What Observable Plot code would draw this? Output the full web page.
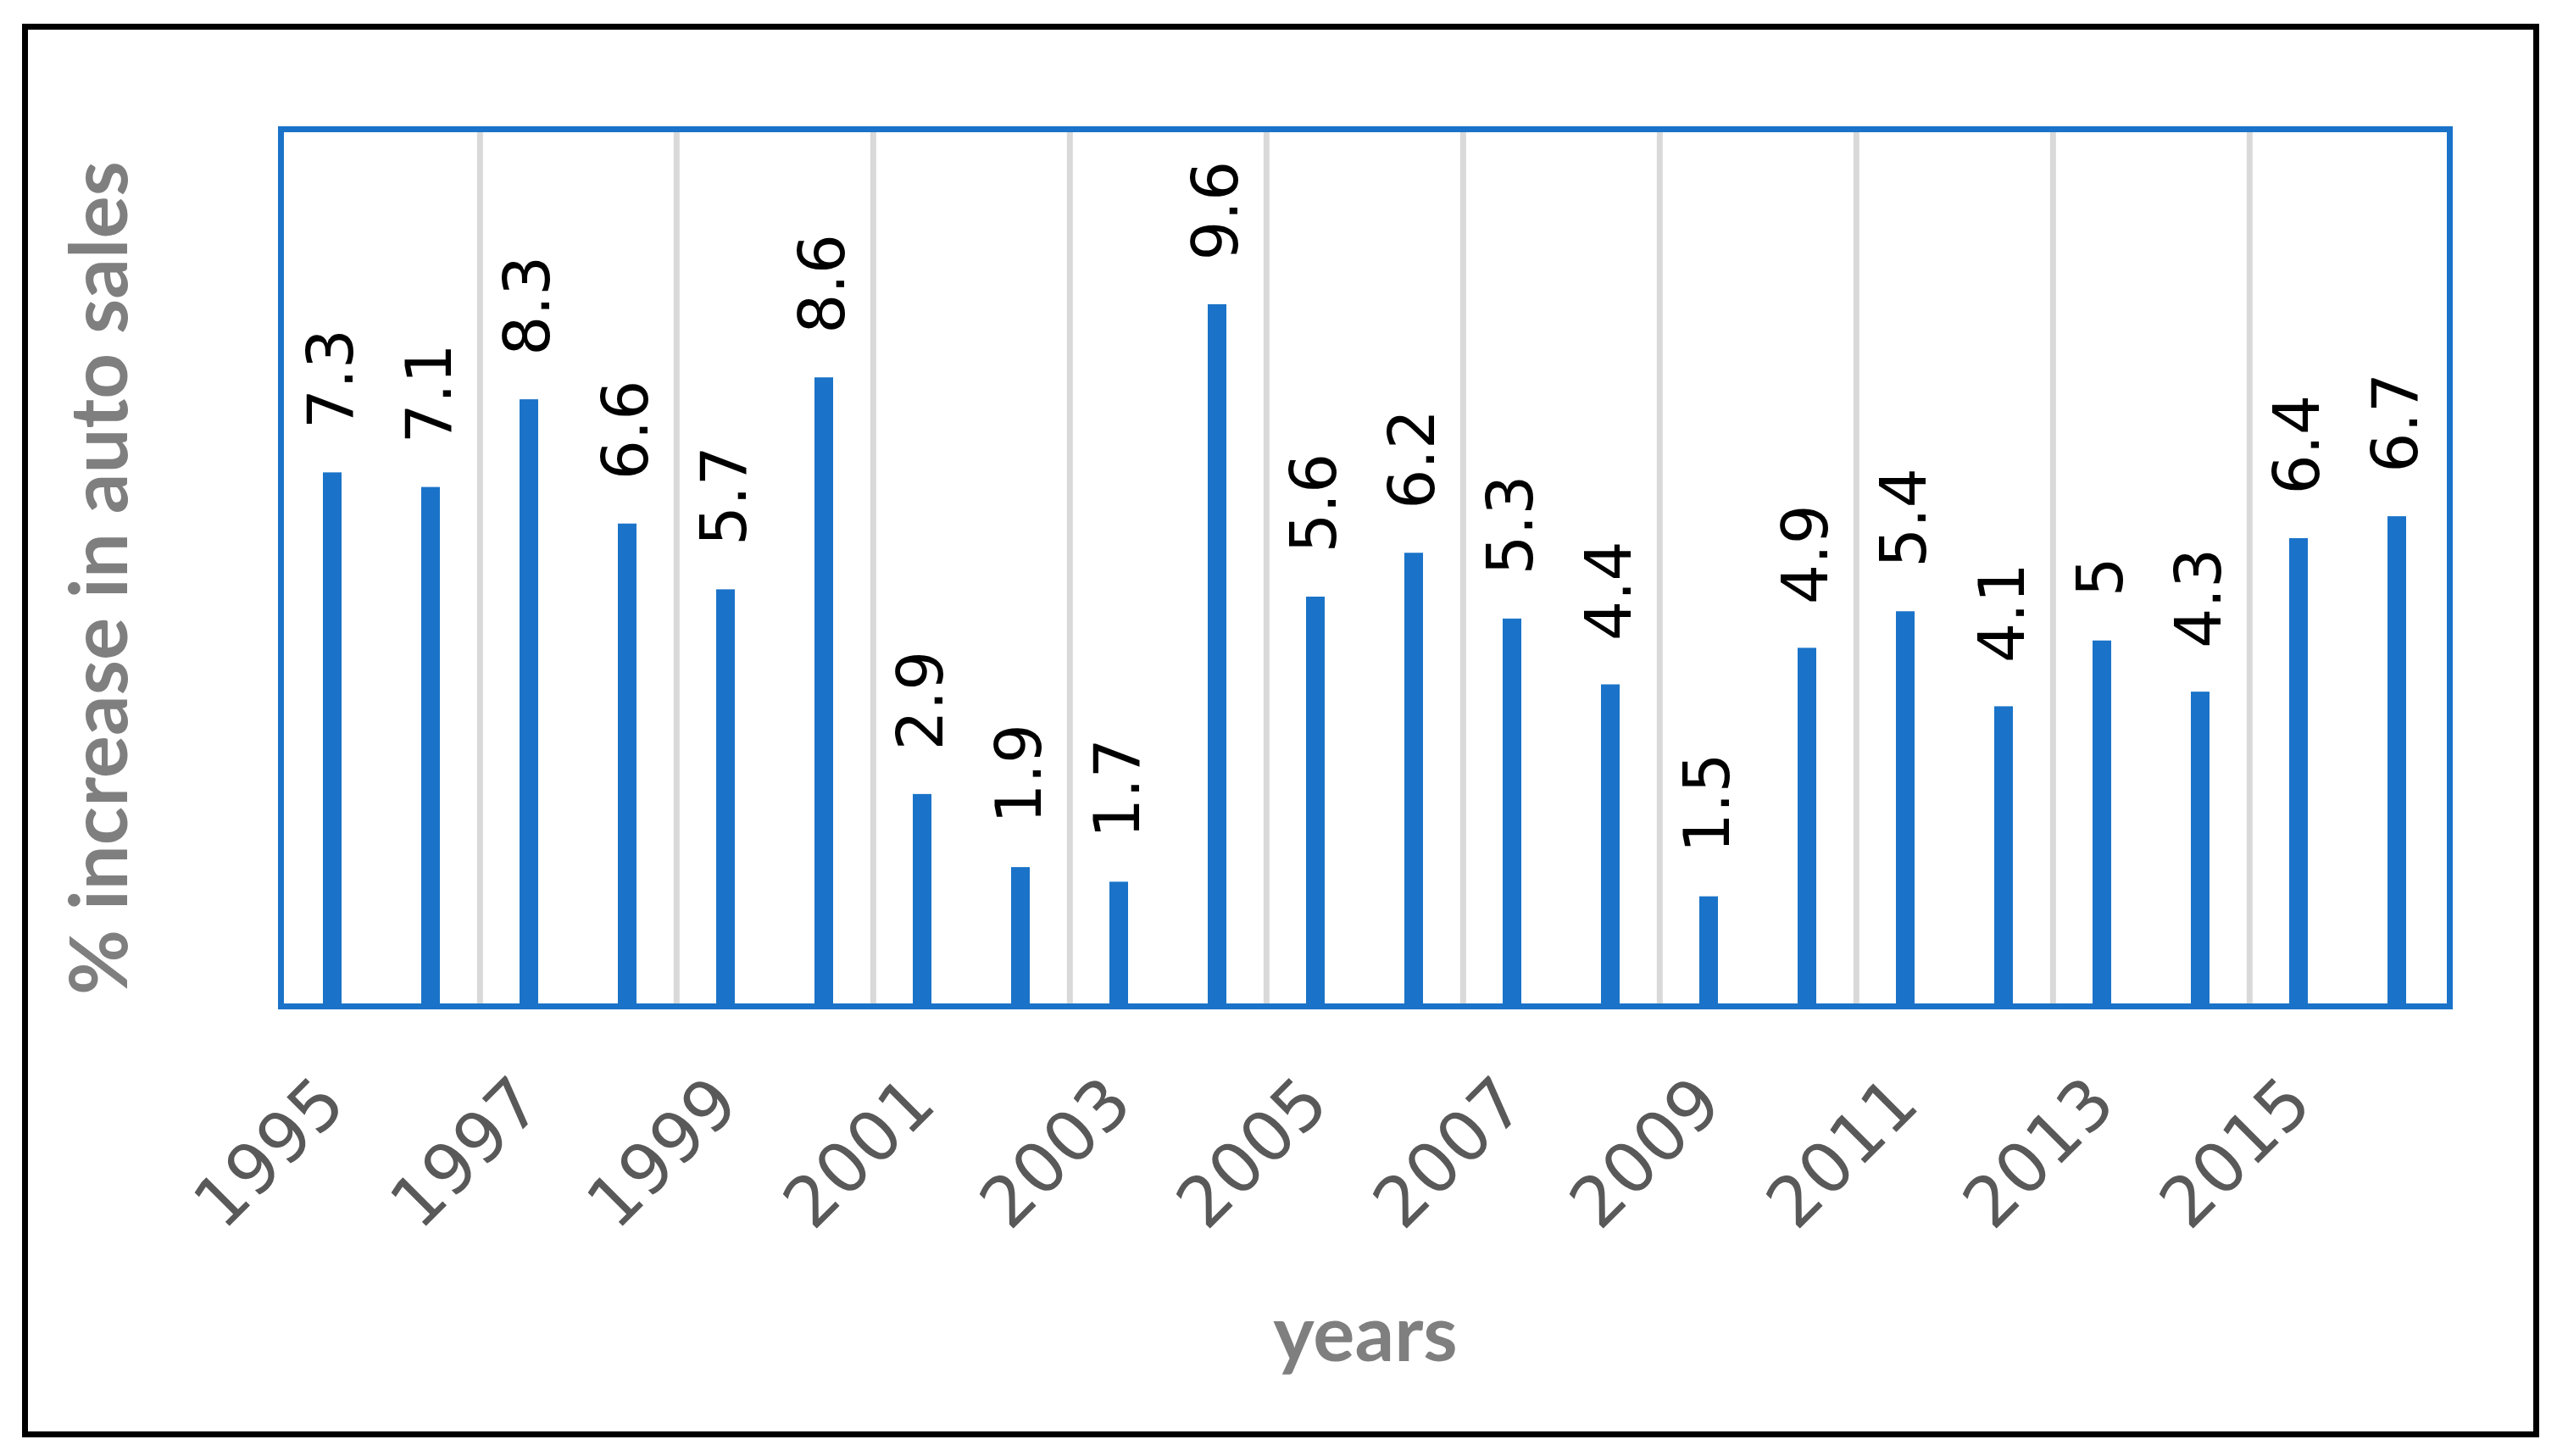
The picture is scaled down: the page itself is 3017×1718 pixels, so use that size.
<!DOCTYPE html>
<html><head><meta charset="utf-8">
<script src="https://cdn.jsdelivr.net/npm/d3@7"></script>
<script src="https://cdn.jsdelivr.net/npm/@observablehq/plot@0.6"></script>
<style>
html,body{margin:0;padding:0;background:#fff;}
#wrap{position:relative;width:3017px;height:1718px;overflow:hidden;background:#fff;}
#border{position:absolute;left:26px;top:28px;width:2970px;height:1668px;box-sizing:border-box;border:7px solid #000;pointer-events:none;}
#chart{position:absolute;left:0;top:0;}
</style></head><body>
<div id="wrap"><div id="chart"></div><div id="border"></div></div>
<script>
const years = ["1995","1996","1997","1998","1999","2000","2001","2002","2003","2004","2005","2006","2007","2008","2009","2010","2011","2012","2013","2014","2015","2016"];
const values = [7.3, 7.1, 8.3, 6.6, 5.7, 8.6, 2.9, 1.9, 1.7, 9.6, 5.6, 6.2, 5.3, 4.4, 1.5, 4.9, 5.4, 4.1, 5, 4.3, 6.4, 6.7];
const labeledYears = ["1995","1997","1999","2001","2003","2005","2007","2009","2011","2013","2015"];
const gridYears = ["1997","1999","2001","2003","2005","2007","2009","2011","2013","2015"];
const yDomain = [0, 12];
const xTitle = "years";
const yTitle = "% increase in auto sales";

const data = years.map((y, i) => ({year: y, value: values[i]}));
const W = 3017, H = 1718;
const mL = 331, mR = 127, mT = 152, mB = 531;
const step = (W - mL - mR) / years.length;
const blue = "#1a73c8";

const chart = Plot.plot({
  width: W, height: H,
  marginLeft: mL, marginRight: mR, marginTop: mT, marginBottom: mB,
  style: {fontFamily: "'DejaVu Sans'", fontSize: "74px", background: "#fff", overflow: "visible"},
  x: {domain: years, paddingInner: 0.81, paddingOuter: 0.405, label: null},
  y: {domain: yDomain, axis: null},
  marks: [
    Plot.ruleX(gridYears, {x: d => d, dx: -step / 2, stroke: "#d9d9d9", strokeWidth: 7}),
    Plot.barY(data, {x: "year", y: "value", fill: blue}),
    Plot.frame({stroke: blue, strokeWidth: 7}),
    Plot.text(data, {x: "year", y: "value", text: d => String(d.value), rotate: -90, textAnchor: "start", dy: -52, fill: "#000", fontSize: 74}),
    Plot.axisX({ticks: labeledYears, tickRotate: -45, tickSize: 0, tickPadding: 100, fontSize: 82, color: "#595959", label: null}),
    Plot.text([yTitle], {frameAnchor: "left", textAnchor: "middle", dx: -212, dy: 12, rotate: -90, text: d => d, fontFamily: "Lato", fontWeight: "bold", fontSize: 94, fill: "#7f7f7f"}),
    Plot.text([xTitle], {frameAnchor: "bottom", dy: 418, text: d => d, fontFamily: "Lato", fontWeight: "bold", fontSize: 92, fill: "#7f7f7f"})
  ]
});
document.getElementById("chart").appendChild(chart);
</script>
</body></html>
